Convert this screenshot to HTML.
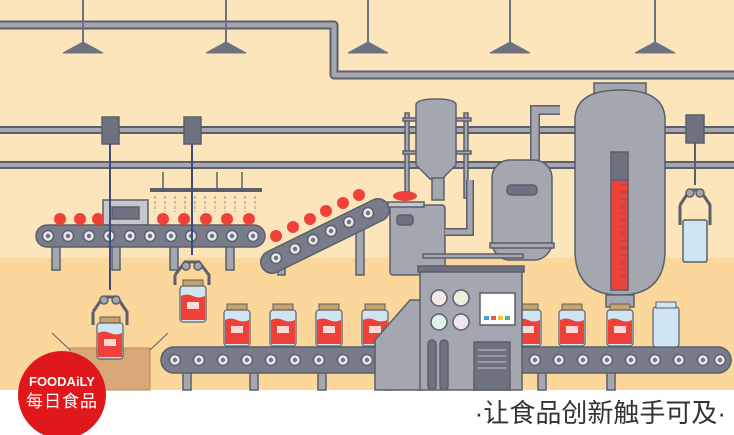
<!DOCTYPE html>
<html><head><meta charset="utf-8"><style>
html,body{margin:0;padding:0;width:734px;height:435px;overflow:hidden;background:#fff}
svg{display:block}
</style></head><body>
<svg width="734" height="435" viewBox="0 0 734 435" xmlns="http://www.w3.org/2000/svg">
<defs>
<g id="roller"><circle r="5.5" fill="#e4e6ea" stroke="#5b5f6b" stroke-width="1.5"/><circle r="2.2" fill="#6d7180"/></g>
<g id="jar">
<rect x="-10" y="-28" width="20" height="6" fill="#c9a265" stroke="#5b5f6b" stroke-width="1"/>
<rect x="-13" y="-22" width="26" height="36" rx="3" fill="#cfe6f2" stroke="#5b5f6b" stroke-width="1.2"/>
<path d="M-12,-12 q6,-3 12,0 t12,0 V12 H-12 Z" fill="#ee4238"/>
<rect x="-6" y="-6" width="12" height="7" fill="#fff" opacity=".8"/>
</g>
</defs>
<rect width="734" height="390" fill="#fde5bb"/>
<rect y="258" width="734" height="132" fill="#fbd79c"/>
<rect y="390" width="734" height="45" fill="#fff"/>
<g fill="none" stroke-linecap="round" stroke-linejoin="round">
<path d="M0,25 H334 V75 H734" stroke="#5b5f6b" stroke-width="9"/>
<path d="M0,25 H334 V75 H734" stroke="#a4a7b0" stroke-width="5"/>
<path d="M0,130 H734 M0,165 H734" stroke="#5b5f6b" stroke-width="8"/>
<path d="M0,130 H734 M0,165 H734" stroke="#a4a7b0" stroke-width="4"/>
</g>
<g fill="#6d7180" stroke="#6d7180">
<line x1="83" y1="0" x2="83" y2="45" stroke-width="2"/><path d="M63,53 L83,42 L103,53Z"/>
<line x1="226" y1="0" x2="226" y2="45" stroke-width="2"/><path d="M206,53 L226,42 L246,53Z"/>
<line x1="368" y1="0" x2="368" y2="45" stroke-width="2"/><path d="M348,53 L368,42 L388,53Z"/>
<line x1="510" y1="0" x2="510" y2="45" stroke-width="2"/><path d="M490,53 L510,42 L530,53Z"/>
<line x1="655" y1="0" x2="655" y2="45" stroke-width="2"/><path d="M635,53 L655,42 L675,53Z"/>
</g>
<g stroke="#5b5f6b" stroke-width="1.5">
<rect x="52" y="245" width="8" height="25" fill="#a4a7b0"/><rect x="112" y="245" width="8" height="25" fill="#a4a7b0"/>
<rect x="170" y="245" width="8" height="25" fill="#a4a7b0"/><rect x="226" y="245" width="8" height="25" fill="#a4a7b0"/>
<rect x="103" y="200" width="45" height="25" fill="#c5c7cd"/>
<rect x="112" y="207" width="27" height="12" fill="#6d7180"/>
<line x1="150" y1="190" x2="262" y2="190" stroke-width="4"/>
<line x1="163" y1="172" x2="163" y2="190"/><line x1="217" y1="172" x2="217" y2="190"/><line x1="242" y1="172" x2="242" y2="190"/>
<rect x="36" y="225" width="229" height="22" rx="11" fill="#787c8a"/>
</g>
<g fill="#ee4238">
<circle cx="60" cy="219" r="6"/><circle cx="80" cy="219" r="6"/><circle cx="98" cy="219" r="6"/>
<circle cx="163" cy="219" r="6"/><circle cx="184" cy="219" r="6"/><circle cx="206" cy="219" r="6"/><circle cx="227" cy="219" r="6"/><circle cx="249" cy="219" r="6"/>
</g>
<g stroke="#8a8e99" stroke-width="1" stroke-dasharray="3,2">
<path d="M155,196V212M165,196V212M175,196V212M185,196V212M195,196V212M205,196V212M215,196V212M225,196V212M235,196V212M245,196V212M255,196V212"/>
</g>
<g>
<use href="#roller" x="48" y="236"/><use href="#roller" x="68" y="236"/><use href="#roller" x="89" y="236"/><use href="#roller" x="109" y="236"/><use href="#roller" x="130" y="236"/><use href="#roller" x="150" y="236"/><use href="#roller" x="171" y="236"/><use href="#roller" x="191" y="236"/><use href="#roller" x="212" y="236"/><use href="#roller" x="232" y="236"/><use href="#roller" x="253" y="236"/>
</g>
<g stroke="#5b5f6b" stroke-width="1.5">
<rect x="278" y="255" width="7" height="20" fill="#a4a7b0"/><rect x="356" y="215" width="8" height="60" fill="#a4a7b0"/>
<path d="M272,262 L378,210" stroke="#5b5f6b" stroke-width="24" stroke-linecap="round"/>
<path d="M272,262 L378,210" stroke="#787c8a" stroke-width="21" stroke-linecap="round"/>
</g>
<g><use href="#roller" x="276" y="258"/><use href="#roller" x="295" y="249"/><use href="#roller" x="313" y="240"/><use href="#roller" x="331" y="231"/><use href="#roller" x="349" y="222"/><use href="#roller" x="368" y="213"/></g>
<g fill="#ee4238"><circle cx="276" cy="236" r="6"/><circle cx="293" cy="227" r="6"/><circle cx="310" cy="219" r="6"/><circle cx="326" cy="211" r="6"/><circle cx="343" cy="203" r="6"/><circle cx="359" cy="195" r="6"/></g>
<g stroke="#5b5f6b" stroke-width="1.5" fill="#a4a7b0">
<rect x="405" y="113" width="4" height="85"/><rect x="464" y="113" width="4" height="85"/>
<rect x="403" y="118" width="68" height="3"/><rect x="403" y="151" width="68" height="3"/>
<path d="M416,105 q0,-6 20,-6 q20,0 20,6 V165 q-10,10 -14,14 h-12 q-4,-4 -14,-14Z"/>
<rect x="432" y="178" width="12" height="22"/>
<rect x="390" y="205" width="55" height="70" rx="3"/>
<rect x="397" y="215" width="16" height="10" rx="3" fill="#6d7180"/>
<rect x="388" y="202" width="36" height="5" fill="#c5c7cd"/>
<path d="M445,232 H470 V180" fill="none" stroke="#5b5f6b" stroke-width="8"/>
<path d="M445,232 H470 V180" fill="none" stroke="#a4a7b0" stroke-width="5"/>
<path d="M535,160 V110 H560" fill="none" stroke="#5b5f6b" stroke-width="10"/>
<path d="M535,160 V110 H560" fill="none" stroke="#a4a7b0" stroke-width="7"/>
<rect x="492" y="160" width="60" height="100" rx="18"/>
<rect x="507" y="185" width="30" height="10" rx="4" fill="#6d7180"/>
<rect x="490" y="243" width="64" height="5"/>
<rect x="423" y="254" width="100" height="4"/>
</g>
<g fill="#ee4238"><ellipse cx="405" cy="196" rx="12" ry="5"/></g>
<g stroke="#5b5f6b" stroke-width="1.5">
<rect x="594" y="83" width="52" height="20" fill="#a4a7b0"/>
<path d="M575,120 q0,-30 45,-30 q45,0 45,30 V250 q0,45 -45,45 q-45,0 -45,-45Z" fill="#a4a7b0"/>
<rect x="611" y="152" width="17" height="138" fill="#6d7180"/>
<rect x="611" y="180" width="17" height="110" fill="#ee4238"/>
<path d="M606,295 h28 v12 h-28Z" fill="#a4a7b0"/>
</g>
<g stroke="#5b5f6b" stroke-width="0.8"><path d="M620,185h7M620,192h7M620,199h7M620,206h7M620,213h7M620,220h7M620,227h7M620,234h7M620,241h7M620,248h7M620,255h7M620,262h7M620,269h7M620,276h7"/></g>
<rect x="614" y="307" width="12" height="22" fill="#ee4238"/>
<g stroke="#5b5f6b" stroke-width="1.5" fill="#6d7180">
<rect x="686" y="115" width="18" height="28"/>
<line x1="695" y1="143" x2="695" y2="185" stroke-width="2"/>
<path d="M680,205 L690,190 H700 L710,205 V225" fill="none" stroke-width="3"/>
<path d="M680,205 V225" fill="none" stroke-width="3"/>
<circle cx="690" cy="193" r="4" fill="#a4a7b0"/><circle cx="700" cy="193" r="4" fill="#a4a7b0"/>
<rect x="683" y="220" width="24" height="42" rx="2" fill="#cfe6f2"/>
</g>
<g stroke="#5b5f6b" stroke-width="1.5" fill="#6d7180">
<rect x="102" y="117" width="17" height="27"/><rect x="184" y="117" width="17" height="27"/>
<line x1="110" y1="144" x2="110" y2="290" stroke="#3e4a7a" stroke-width="2"/>
<line x1="192" y1="144" x2="192" y2="255" stroke="#3e4a7a" stroke-width="2"/>
<path d="M93,312 L103,297 H117 L127,312 V325 M93,312 V325" fill="none" stroke-width="3"/>
<circle cx="104" cy="300" r="4" fill="#a4a7b0"/><circle cx="116" cy="300" r="4" fill="#a4a7b0"/>
<path d="M175,275 L185,262 H199 L209,275 V285 M175,275 V285" fill="none" stroke-width="3"/>
<circle cx="186" cy="266" r="4" fill="#a4a7b0"/><circle cx="198" cy="266" r="4" fill="#a4a7b0"/>
</g>
<use href="#jar" x="193" y="308"/>
<rect x="70" y="348" width="80" height="42" fill="#d9a877" stroke="#b98b5c"/>
<line x1="52" y1="333" x2="70" y2="350" stroke="#5b5f6b"/><line x1="150" y1="350" x2="168" y2="333" stroke="#5b5f6b"/>
<use href="#jar" x="110" y="345"/>
<g stroke="#5b5f6b" stroke-width="1.5" fill="#a4a7b0">
<rect x="183" y="372" width="8" height="18"/><rect x="250" y="372" width="8" height="18"/><rect x="318" y="372" width="8" height="18"/><rect x="385" y="372" width="8" height="18"/><rect x="538" y="372" width="8" height="18"/><rect x="607" y="372" width="8" height="18"/>
</g>
<rect x="161" y="347" width="570" height="26" rx="13" fill="#787c8a" stroke="#5b5f6b" stroke-width="1.5"/>
<g>
<use href="#roller" x="175" y="360"/><use href="#roller" x="199" y="360"/><use href="#roller" x="223" y="360"/><use href="#roller" x="247" y="360"/><use href="#roller" x="271" y="360"/><use href="#roller" x="295" y="360"/><use href="#roller" x="319" y="360"/><use href="#roller" x="343" y="360"/><use href="#roller" x="367" y="360"/><use href="#roller" x="391" y="360"/>
<use href="#roller" x="535" y="360"/><use href="#roller" x="559" y="360"/><use href="#roller" x="583" y="360"/><use href="#roller" x="607" y="360"/><use href="#roller" x="631" y="360"/><use href="#roller" x="655" y="360"/><use href="#roller" x="679" y="360"/><use href="#roller" x="703" y="360"/><use href="#roller" x="720" y="360"/>
</g>
<use href="#jar" x="237" y="332"/><use href="#jar" x="283" y="332"/><use href="#jar" x="329" y="332"/><use href="#jar" x="375" y="332"/>
<use href="#jar" x="528" y="332"/><use href="#jar" x="572" y="332"/><use href="#jar" x="620" y="332"/>
<g><rect x="653" y="307" width="26" height="40" rx="3" fill="#cfe6f2" stroke="#5b5f6b" stroke-width="1.2"/><rect x="656" y="302" width="20" height="6" fill="#cfe6f2" stroke="#5b5f6b"/></g>
<g stroke="#5b5f6b" stroke-width="1.5">
<path d="M375,340 L410,300 H422 V390 H375Z" fill="#a4a7b0"/>
<rect x="420" y="270" width="102" height="120" fill="#a4a7b0"/>
<rect x="418" y="266" width="106" height="6" fill="#6d7180"/>
<circle cx="439" cy="298" r="8" fill="#f2e6e6"/><circle cx="461" cy="298" r="8" fill="#e9f0dc"/>
<circle cx="439" cy="322" r="8" fill="#e2f0e8"/><circle cx="461" cy="322" r="8" fill="#efe3f0"/>
<rect x="480" y="293" width="35" height="32" fill="#fff"/>
<rect x="484" y="316" width="5" height="4" fill="#4a9ed8" stroke="none"/><rect x="491" y="316" width="5" height="4" fill="#e85a50" stroke="none"/><rect x="498" y="316" width="5" height="4" fill="#f3c13a" stroke="none"/><rect x="505" y="316" width="5" height="4" fill="#5ab56b" stroke="none"/>
<rect x="428" y="340" width="8" height="50" rx="4" fill="#6d7180"/><rect x="440" y="340" width="8" height="50" rx="4" fill="#6d7180"/>
<rect x="474" y="342" width="36" height="48" fill="#6d7180"/>
</g>
<g stroke="#a4a7b0" stroke-width="1.5"><path d="M478,350h28M478,356h28M478,362h28M478,368h28"/></g>
<circle cx="62" cy="395" r="44" fill="#e0181c"/>
<text x="62" y="386" text-anchor="middle" font-family="Liberation Sans, sans-serif" font-size="13" font-weight="bold" fill="#fff">FOODAiLY</text>
<text x="62" y="407" text-anchor="middle" font-family="'Liberation Sans','Noto Sans CJK SC',sans-serif" font-size="17" fill="#fff" letter-spacing="1">每日食品</text>
<text x="726" y="422" text-anchor="end" font-family="'Liberation Sans','Noto Sans CJK SC',sans-serif" font-size="26" fill="#333">·让食品创新触手可及·</text>
</svg>
</body></html>
